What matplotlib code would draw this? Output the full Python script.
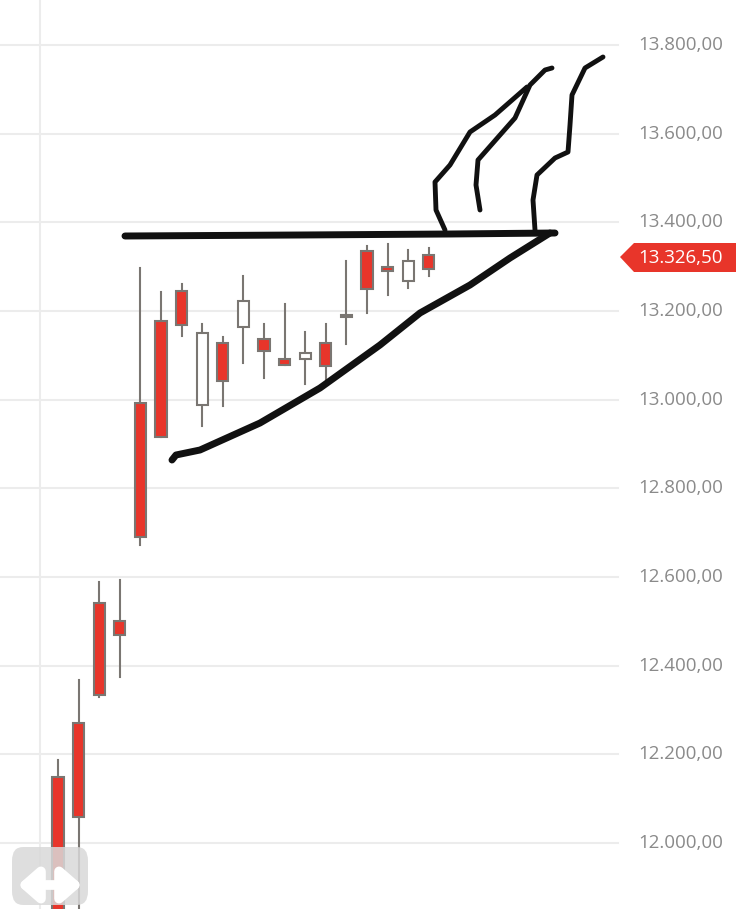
import numpy as np
import matplotlib.pyplot as plt
from matplotlib.patches import FancyBboxPatch, Polygon, FancyArrowPatch

opens  = [11850, 12059, 12334, 12469, 12690, 12916, 13168, 13151, 13042, 13163, 13110, 13078, 13092, 13077, 13186, 13250, 13290, 13268, 13295]
closes = [12150, 12271, 12542, 12501, 12993, 13178, 13246, 12988, 13128, 13223, 13137, 13092, 13106, 13128, 13192, 13335, 13300, 13313, 13327]
highs  = [12187, 12368, 12588, 12593, 13297, 13243, 13261, 13171, 13142, 13279, 13170, 13215, 13152, 13170, 13313, 13347, 13351, 13338, 13342]
lows   = [11800, 11800, 12329, 12374, 12672, 12915, 13144, 12941, 12986, 13082, 13050, 13078, 13035, 13040, 13126, 13195, 13235, 13253, 13280]
hollow = [False, False, False, False, False, False, False, True, False, True, False, False, True, False, False, False, False, True, False]
yticks = [12000, 12200, 12400, 12600, 12800, 13000, 13200, 13400, 13600, 13800]
last_price = "13.326,50"

RED = "#e8352a"
EDGE = "#7a7672"

fig = plt.figure(figsize=(7.36, 9.09), dpi=100)
ax = fig.add_axes([0, 0, 1, 1])
ax.set_xlim(-58 / 20.6, 678 / 20.6)
ax.set_ylim(11851.2, 13901.5)
ax.axis("off")

# grid
for t in yticks:
    ax.plot([-3, 27.2], [t, t], color="#ececec", lw=1.5, zorder=0)
    lab = f"{t:,.2f}".replace(",", "X").replace(".", ",").replace("X", ".")
    ax.text(0.867, t, lab, transform=ax.get_yaxis_transform(), ha="left", va="center",
            fontsize=13.5, color="#8a8a8a", family="Open Sans")
ax.axvline(-18 / 20.6, color="#ececec", lw=1.5, zorder=0)

w = 0.55
for i, (o, c, h, l, hol) in enumerate(zip(opens, closes, highs, lows, hollow)):
    ax.plot([i, i], [l, h], color=EDGE, lw=1.5, zorder=2)
    bot, top = min(o, c), max(o, c)
    ax.add_patch(plt.Rectangle((i - w / 2, bot), w, max(top - bot, 4),
                               facecolor="white" if hol else RED, edgecolor=EDGE, lw=1.5, zorder=3))

# price tag
tr = fig.transFigure
def px(x, y):
    return (x / 736, 1 - y / 909)
tag = Polygon([px(620, 257), px(634, 243), px(736, 243), px(736, 272), px(634, 272)],
              closed=True, transform=tr, facecolor=RED, edgecolor="none", zorder=5)
fig.patches.append(tag)
fig.text(*px(638, 258), last_price, color="white", fontsize=13.5, va="center", ha="left",
         family="Open Sans", zorder=10)

# hand drawn strokes
strokes = [
    [(125, 236), (300, 235), (450, 234), (555, 233)],
    [(172, 460), (176, 455), (200, 450), (260, 423), (320, 388), (380, 345), (420, 313), (470, 285), (510, 258), (550, 233)],
    [(445, 230), (436, 210), (435, 182), (450, 165), (470, 132), (495, 115), (527, 87)],
    [(480, 210), (476, 185), (478, 160), (500, 135), (515, 118), (530, 85), (545, 70), (552, 68)],
    [(535, 230), (533, 200), (537, 175), (555, 158), (568, 152), (570, 125), (572, 95), (585, 68), (603, 57)],
]
for k, s in enumerate(strokes):
    pts = np.array([px(x, y) for x, y in s])
    fig.lines.append(plt.Line2D(pts[:, 0], pts[:, 1], transform=tr, color="#111111",
                                lw=5 if k < 2 else 3.5,
                                solid_capstyle="round", solid_joinstyle="round", zorder=6))

# bottom-left button
btn = FancyBboxPatch(px(12, 905), 76 / 736, 58 / 909, boxstyle="round,pad=0,rounding_size=0.015",
                     transform=tr, facecolor="#d9d9d9", edgecolor="none", alpha=0.85, zorder=7)
fig.patches.append(btn)
fig.patches.append(FancyArrowPatch(px(18, 885), px(82, 885), transform=tr, zorder=8,
                                   arrowstyle="<|-|>,head_length=0.8,head_width=0.7",
                                   mutation_scale=14, color="white", lw=7, shrinkA=0, shrinkB=0))

fig.savefig("out.png", dpi=100)
